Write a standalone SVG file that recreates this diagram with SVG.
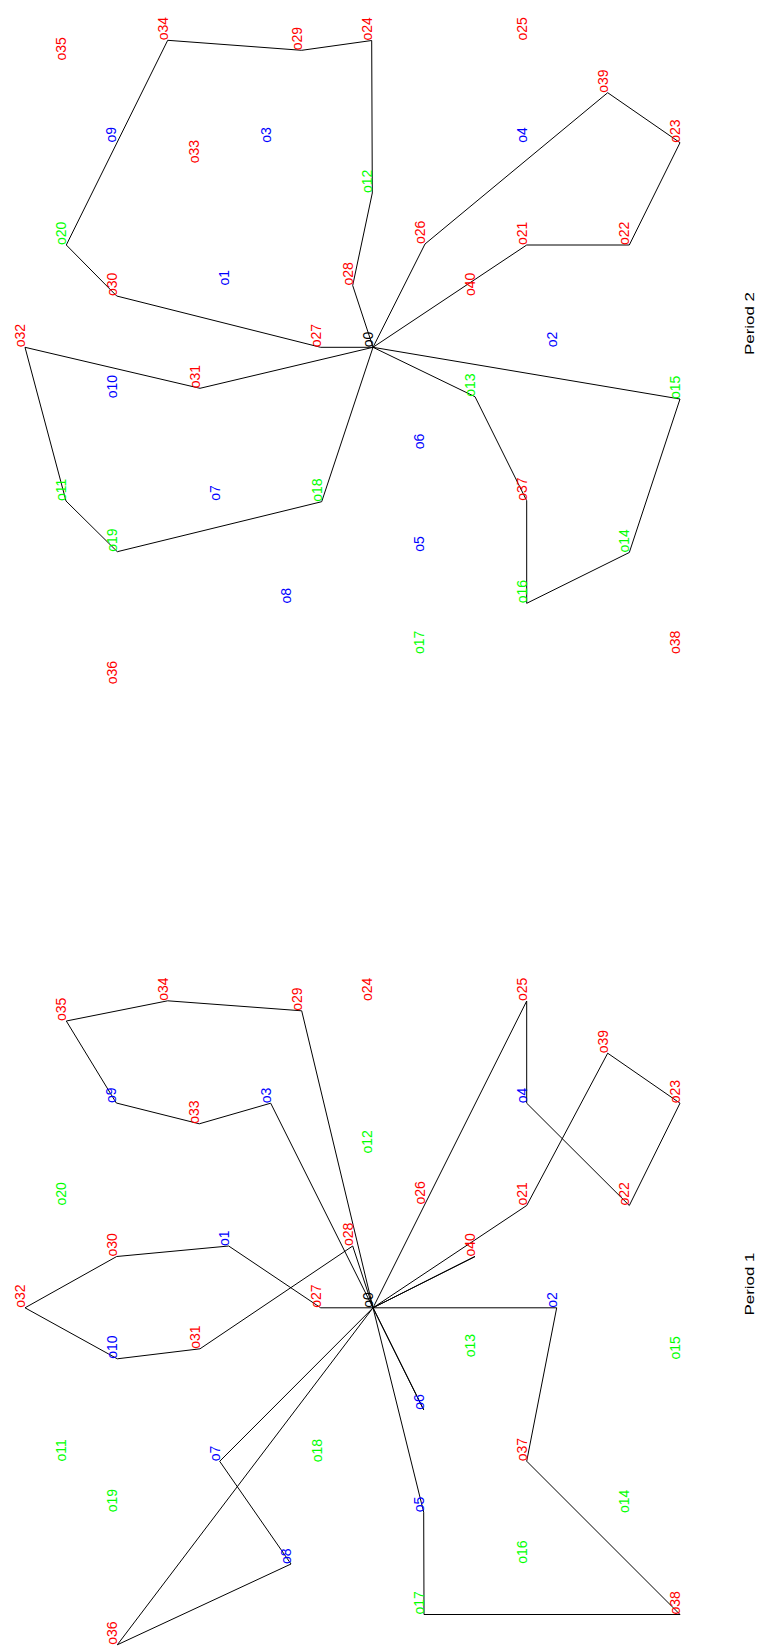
<svg xmlns="http://www.w3.org/2000/svg" width="761" height="1648" viewBox="0 0 761 1648">
<style>
text{font-family:"Liberation Sans",Arial,sans-serif;font-size:14px}
.r{fill:#ff0000}.b{fill:#0000ff}.g{fill:#00ff00}.k{fill:#000000}
.ln{fill:none;stroke:#000000;stroke-width:1;stroke-linejoin:miter}
.ttl{font-size:13.5px;fill:#000000}
</style>
<rect width="761" height="1648" fill="#ffffff"/>

<!-- ================= PERIOD 2 ================= -->
<g id="period2">
<g id="p2-connectors">
<polyline class="ln" points="373,347.3 320.7,347.3 116.7,296 66.3,245 167.7,40.3 301.7,50.3 371.7,40.5 372.3,193 352.7,285.5 373,347.3"/>
<polyline class="ln" points="373,347.3 200,388.3 25,347.3 66,501 117.3,551.7 321.7,501.7 373,347.3"/>
<polyline class="ln" points="373,347.3 425,244 607.7,92.7 680,142.7 629.3,245 526.7,245 373,347.3"/>
<polyline class="ln" points="373,347.3 475,396.7 526.7,500.7 526.7,603.3 629.3,552.5 680,399 373,347.3"/>
</g>
<g id="p2-o0"><text class="k" transform="translate(373,347.3) rotate(-90)">o0</text></g>
<g id="p2-o1"><text class="b" transform="translate(228.7,285.5) rotate(-90)">o1</text></g>
<g id="p2-o2"><text class="b" transform="translate(556.7,347.3) rotate(-90)">o2</text></g>
<g id="p2-o3"><text class="b" transform="translate(270.7,142.7) rotate(-90)">o3</text></g>
<g id="p2-o4"><text class="b" transform="translate(526.7,142.7) rotate(-90)">o4</text></g>
<g id="p2-o5"><text class="b" transform="translate(423.7,551.7) rotate(-90)">o5</text></g>
<g id="p2-o6"><text class="b" transform="translate(423.7,449.3) rotate(-90)">o6</text></g>
<g id="p2-o7"><text class="b" transform="translate(219.7,500.8) rotate(-90)">o7</text></g>
<g id="p2-o8"><text class="b" transform="translate(291,603.5) rotate(-90)">o8</text></g>
<g id="p2-o9"><text class="b" transform="translate(116.3,142.5) rotate(-90)">o9</text></g>
<g id="p2-o10"><text class="b" transform="translate(117.3,398.3) rotate(-90)">o10</text></g>
<g id="p2-o11"><text class="g" transform="translate(66,501) rotate(-90)">o11</text></g>
<g id="p2-o12"><text class="g" transform="translate(372.3,193) rotate(-90)">o12</text></g>
<g id="p2-o13"><text class="g" transform="translate(475,396.7) rotate(-90)">o13</text></g>
<g id="p2-o14"><text class="g" transform="translate(629.3,552.5) rotate(-90)">o14</text></g>
<g id="p2-o15"><text class="g" transform="translate(680,399) rotate(-90)">o15</text></g>
<g id="p2-o16"><text class="g" transform="translate(526.7,603.3) rotate(-90)">o16</text></g>
<g id="p2-o17"><text class="g" transform="translate(424,654) rotate(-90)">o17</text></g>
<g id="p2-o18"><text class="g" transform="translate(321.7,501.7) rotate(-90)">o18</text></g>
<g id="p2-o19"><text class="g" transform="translate(117.3,551.7) rotate(-90)">o19</text></g>
<g id="p2-o20"><text class="g" transform="translate(66.3,245) rotate(-90)">o20</text></g>
<g id="p2-o21"><text class="r" transform="translate(526.7,245) rotate(-90)">o21</text></g>
<g id="p2-o22"><text class="r" transform="translate(629.3,245) rotate(-90)">o22</text></g>
<g id="p2-o23"><text class="r" transform="translate(680,142.7) rotate(-90)">o23</text></g>
<g id="p2-o24"><text class="r" transform="translate(371.7,40.5) rotate(-90)">o24</text></g>
<g id="p2-o25"><text class="r" transform="translate(526.7,40.5) rotate(-90)">o25</text></g>
<g id="p2-o26"><text class="r" transform="translate(425,244) rotate(-90)">o26</text></g>
<g id="p2-o27"><text class="r" transform="translate(320.7,347.3) rotate(-90)">o27</text></g>
<g id="p2-o28"><text class="r" transform="translate(352.7,285.5) rotate(-90)">o28</text></g>
<g id="p2-o29"><text class="r" transform="translate(301.7,50.3) rotate(-90)">o29</text></g>
<g id="p2-o30"><text class="r" transform="translate(116.7,296) rotate(-90)">o30</text></g>
<g id="p2-o31"><text class="r" transform="translate(200,388.3) rotate(-90)">o31</text></g>
<g id="p2-o32"><text class="r" transform="translate(25,347.3) rotate(-90)">o32</text></g>
<g id="p2-o33"><text class="r" transform="translate(199.3,163.3) rotate(-90)">o33</text></g>
<g id="p2-o34"><text class="r" transform="translate(167.7,40.3) rotate(-90)">o34</text></g>
<g id="p2-o35"><text class="r" transform="translate(66.3,60.5) rotate(-90)">o35</text></g>
<g id="p2-o36"><text class="r" transform="translate(117.3,684.3) rotate(-90)">o36</text></g>
<g id="p2-o37"><text class="r" transform="translate(526.7,500.7) rotate(-90)">o37</text></g>
<g id="p2-o38"><text class="r" transform="translate(680,654) rotate(-90)">o38</text></g>
<g id="p2-o39"><text class="r" transform="translate(607.7,92.7) rotate(-90)">o39</text></g>
<g id="p2-o40"><text class="r" transform="translate(475,296) rotate(-90)">o40</text></g>
<g id="p2-title"><text class="ttl" transform="translate(754,355) rotate(-90)" textLength="63" lengthAdjust="spacingAndGlyphs">Period 2</text></g>
</g>

<!-- ================= PERIOD 1 ================= -->
<g id="period1" transform="translate(0,960.5)">
<g id="p1-connectors">
<polyline class="ln" points="373,347.3 301.7,50.3 167.7,40.3 66.3,60.5 116.3,142.5 199.3,163.3 270.7,142.7 373,347.3"/>
<polyline class="ln" points="373,347.3 320.7,347.3 228.7,285.5 116.7,296 25,347.3 117.3,398.3 200,388.3 352.7,285.5 373,347.3"/>
<polyline class="ln" points="373,347.3 219.7,500.8 291,603.5 117.3,684.3 373,347.3"/>
<polyline class="ln" points="373,347.3 556.7,347.3 526.7,500.7 680,654 424,654 423.7,551.7 373,347.3"/>
<polyline class="ln" points="373,347.3 423.7,449.3 373,347.3"/>
<polyline class="ln" points="373,347.3 475,296 373,347.3"/>
<polyline class="ln" points="373,347.3 526.7,245 607.7,92.7 680,142.7 629.3,245 526.7,142.7 526.7,40.5 373,347.3"/>
</g>
<g id="p1-o0"><text class="k" transform="translate(373,347.3) rotate(-90)">o0</text></g>
<g id="p1-o1"><text class="b" transform="translate(228.7,285.5) rotate(-90)">o1</text></g>
<g id="p1-o2"><text class="b" transform="translate(556.7,347.3) rotate(-90)">o2</text></g>
<g id="p1-o3"><text class="b" transform="translate(270.7,142.7) rotate(-90)">o3</text></g>
<g id="p1-o4"><text class="b" transform="translate(526.7,142.7) rotate(-90)">o4</text></g>
<g id="p1-o5"><text class="b" transform="translate(423.7,551.7) rotate(-90)">o5</text></g>
<g id="p1-o6"><text class="b" transform="translate(423.7,449.3) rotate(-90)">o6</text></g>
<g id="p1-o7"><text class="b" transform="translate(219.7,500.8) rotate(-90)">o7</text></g>
<g id="p1-o8"><text class="b" transform="translate(291,603.5) rotate(-90)">o8</text></g>
<g id="p1-o9"><text class="b" transform="translate(116.3,142.5) rotate(-90)">o9</text></g>
<g id="p1-o10"><text class="b" transform="translate(117.3,398.3) rotate(-90)">o10</text></g>
<g id="p1-o11"><text class="g" transform="translate(66,501) rotate(-90)">o11</text></g>
<g id="p1-o12"><text class="g" transform="translate(372.3,193) rotate(-90)">o12</text></g>
<g id="p1-o13"><text class="g" transform="translate(475,396.7) rotate(-90)">o13</text></g>
<g id="p1-o14"><text class="g" transform="translate(629.3,552.5) rotate(-90)">o14</text></g>
<g id="p1-o15"><text class="g" transform="translate(680,399) rotate(-90)">o15</text></g>
<g id="p1-o16"><text class="g" transform="translate(526.7,603.3) rotate(-90)">o16</text></g>
<g id="p1-o17"><text class="g" transform="translate(424,654) rotate(-90)">o17</text></g>
<g id="p1-o18"><text class="g" transform="translate(321.7,501.7) rotate(-90)">o18</text></g>
<g id="p1-o19"><text class="g" transform="translate(117.3,551.7) rotate(-90)">o19</text></g>
<g id="p1-o20"><text class="g" transform="translate(66.3,245) rotate(-90)">o20</text></g>
<g id="p1-o21"><text class="r" transform="translate(526.7,245) rotate(-90)">o21</text></g>
<g id="p1-o22"><text class="r" transform="translate(629.3,245) rotate(-90)">o22</text></g>
<g id="p1-o23"><text class="r" transform="translate(680,142.7) rotate(-90)">o23</text></g>
<g id="p1-o24"><text class="r" transform="translate(371.7,40.5) rotate(-90)">o24</text></g>
<g id="p1-o25"><text class="r" transform="translate(526.7,40.5) rotate(-90)">o25</text></g>
<g id="p1-o26"><text class="r" transform="translate(425,244) rotate(-90)">o26</text></g>
<g id="p1-o27"><text class="r" transform="translate(320.7,347.3) rotate(-90)">o27</text></g>
<g id="p1-o28"><text class="r" transform="translate(352.7,285.5) rotate(-90)">o28</text></g>
<g id="p1-o29"><text class="r" transform="translate(301.7,50.3) rotate(-90)">o29</text></g>
<g id="p1-o30"><text class="r" transform="translate(116.7,296) rotate(-90)">o30</text></g>
<g id="p1-o31"><text class="r" transform="translate(200,388.3) rotate(-90)">o31</text></g>
<g id="p1-o32"><text class="r" transform="translate(25,347.3) rotate(-90)">o32</text></g>
<g id="p1-o33"><text class="r" transform="translate(199.3,163.3) rotate(-90)">o33</text></g>
<g id="p1-o34"><text class="r" transform="translate(167.7,40.3) rotate(-90)">o34</text></g>
<g id="p1-o35"><text class="r" transform="translate(66.3,60.5) rotate(-90)">o35</text></g>
<g id="p1-o36"><text class="r" transform="translate(117.3,684.3) rotate(-90)">o36</text></g>
<g id="p1-o37"><text class="r" transform="translate(526.7,500.7) rotate(-90)">o37</text></g>
<g id="p1-o38"><text class="r" transform="translate(680,654) rotate(-90)">o38</text></g>
<g id="p1-o39"><text class="r" transform="translate(607.7,92.7) rotate(-90)">o39</text></g>
<g id="p1-o40"><text class="r" transform="translate(475,296) rotate(-90)">o40</text></g>
<g id="p1-title"><text class="ttl" transform="translate(754,355) rotate(-90)" textLength="63" lengthAdjust="spacingAndGlyphs">Period 1</text></g>
</g>
</svg>
